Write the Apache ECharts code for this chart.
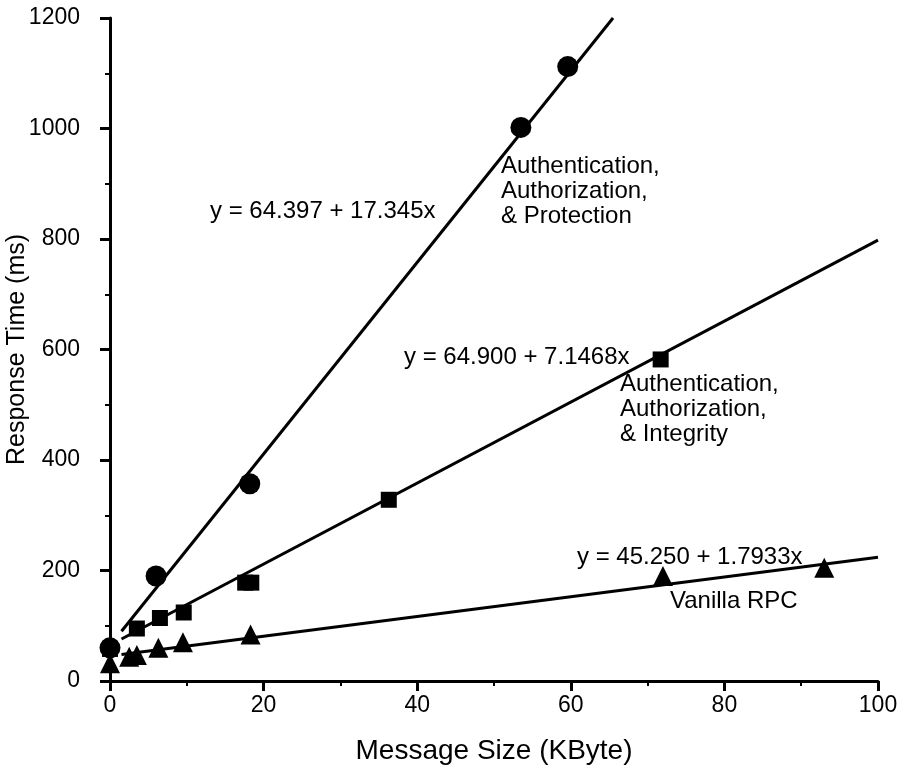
<!DOCTYPE html>
<html>
<head>
<meta charset="utf-8">
<script src="https://cdn.jsdelivr.net/npm/echarts@6/dist/echarts.min.js"></script>
<style>html,body{margin:0;padding:0;background:#fff}#c{width:898px;height:767px}</style>
</head>
<body>
<div id="c"></div>
<script>
// Measured data (Message Size KByte, Response Time ms)
const protectionPts = [[0,60],[6,190],[18.2,357],[53.5,1002],[59.6,1112]];
const integrityPts  = [[0,58],[3.5,95],[6.5,114],[9.6,124],[17.6,178],[18.4,178],[36.3,328],[71.7,582]];
const vanillaPts    = [[0,32],[2.5,44],[3.5,47],[6.3,60],[9.5,70],[18.3,84],[72,190],[93,205]];
// Fitted line end points
const protectionFit = [[1.5,90],[65.5,1200]];
const integrityFit  = [[1.5,76],[100,798]];
const vanillaFit    = [[1.5,48],[100,224]];
const fitLabels = ['y = 64.397 + 17.345x','y = 64.900 + 7.1468x','y = 45.250 + 1.7933x'];
const seriesLabels = ['Authentication,\nAuthorization,\n& Protection','Authentication,\nAuthorization,\n& Integrity','Vanilla RPC'];
const xTitle = 'Message Size (KByte)';
const yTitle = 'Response Time (ms)';

const FONT = '"Liberation Sans", Arial, Helvetica, sans-serif';
const chart = echarts.init(document.getElementById('c'), null, {renderer:'canvas'});
const lineStyle = {color:'#000', width:3};
function fit(d){return {type:'line', data:d, symbol:'none', lineStyle:lineStyle, silent:true, z:2, clip:true};}
function pts(d,sym,size){return {type:'scatter', data:d, symbol:sym, symbolSize:size, itemStyle:{color:'#000', opacity:1}, z:3};}
const txt = {fill:'#000', fontFamily:FONT, fontSize:24, lineHeight:25};
chart.setOption({
  animation:false,
  grid:{left:110, right:20, top:18, bottom:86, containLabel:false, outerBoundsMode:'none'},
  xAxis:{type:'value', min:0, max:100, interval:20,
    name:xTitle, nameLocation:'middle', nameGap:56, nameMoveOverlap:false,
    nameTextStyle:{fontFamily:FONT, fontSize:28, color:'#000'},
    axisLine:{show:true, onZero:false, lineStyle:{color:'#000', width:3}},
    axisTick:{show:true, length:10, lineStyle:{color:'#000', width:3}},
    minorTick:{show:true, splitNumber:2, length:5, lineStyle:{color:'#000', width:2}},
    axisLabel:{fontFamily:FONT, fontSize:23, color:'#000', margin:13, formatter:v=>String(v)},
    splitLine:{show:false}},
  yAxis:{type:'value', min:0, max:1200, interval:200,
    name:yTitle, nameLocation:'middle', nameGap:80, nameRotate:90, nameMoveOverlap:false,
    nameTextStyle:{fontFamily:FONT, fontSize:25, color:'#000'},
    axisLine:{show:true, onZero:false, lineStyle:{color:'#000', width:3}},
    axisTick:{show:true, length:10, lineStyle:{color:'#000', width:3}},
    minorTick:{show:true, splitNumber:2, length:5, lineStyle:{color:'#000', width:2}},
    axisLabel:{fontFamily:FONT, fontSize:23, color:'#000', margin:30, formatter:v=>String(v)},
    splitLine:{show:false}},
  series:[
    fit(protectionFit), fit(integrityFit), fit(vanillaFit),
    pts(integrityPts,'rect',16),
    pts(vanillaPts,'triangle',20),
    pts(protectionPts,'circle',21)
  ],
  graphic:[
    {type:'text', left:210, top:199, style:Object.assign({text:fitLabels[0]},txt)},
    {type:'text', left:501, top:154, style:Object.assign({text:seriesLabels[0]},txt)},
    {type:'text', left:404, top:345, style:Object.assign({text:fitLabels[1]},txt)},
    {type:'text', left:620, top:372, style:Object.assign({text:seriesLabels[1]},txt)},
    {type:'text', left:577, top:545, style:Object.assign({text:fitLabels[2]},txt)},
    {type:'text', left:670, top:589, style:Object.assign({text:seriesLabels[2]},txt)}
  ]
});
</script>
</body>
</html>
